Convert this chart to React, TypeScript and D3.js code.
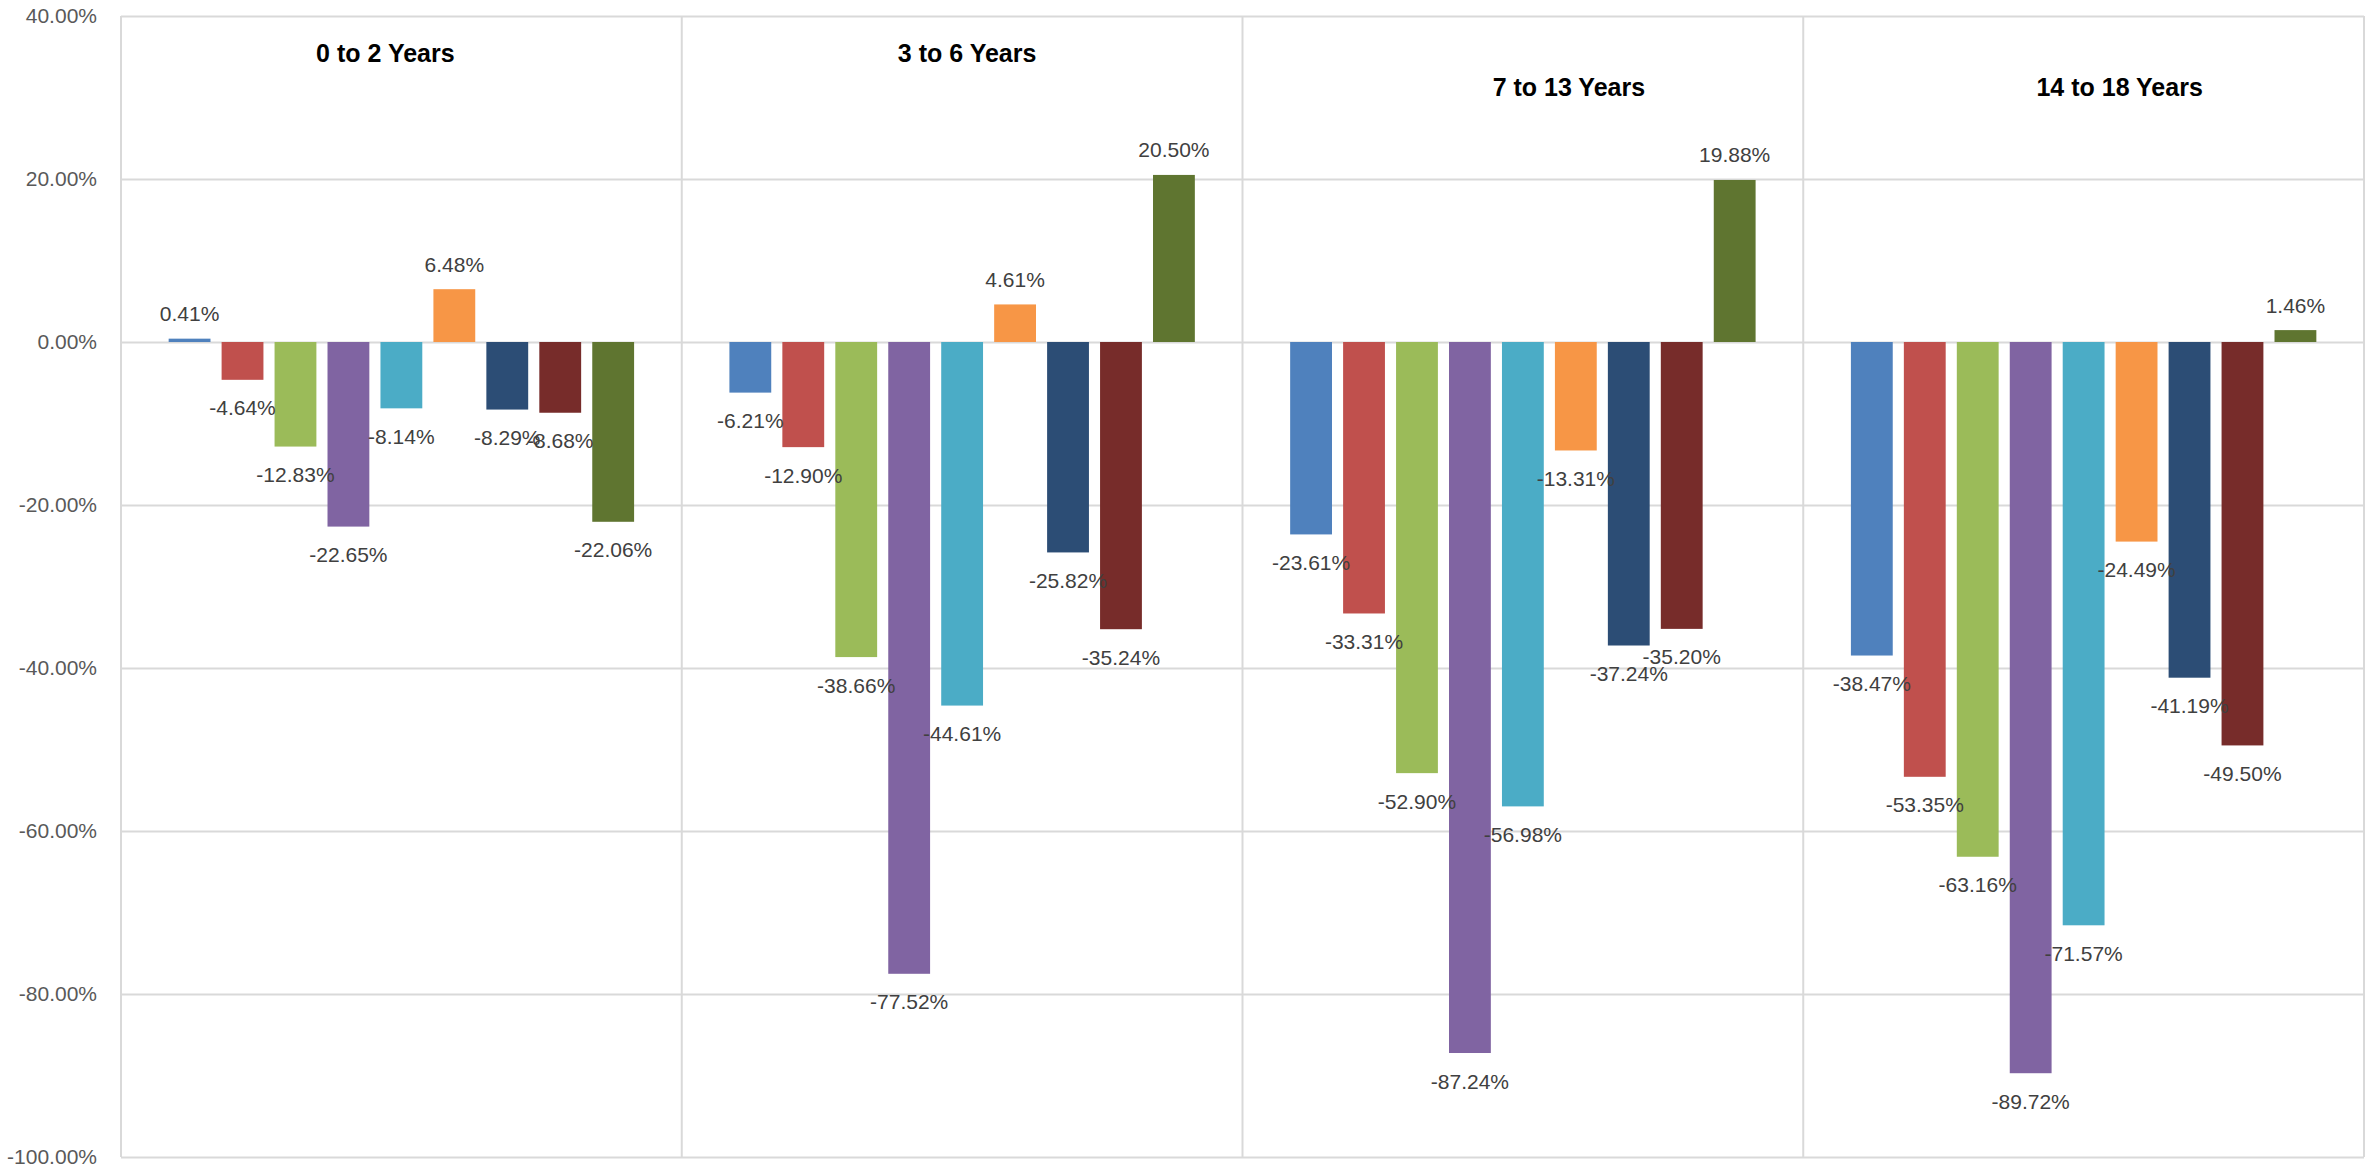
import { useEffect, useRef } from 'react';
import * as d3 from 'd3';

// Age groups (one panel each)
const groups = ['0 to 2 Years', '3 to 6 Years', '7 to 13 Years', '14 to 18 Years'];

// Values per panel, 9 series each (fractions)
const values0to2 = [0.0041, -0.0464, -0.1283, -0.2265, -0.0814, 0.0648, -0.0829, -0.0868, -0.2206];
const values3to6 = [-0.0621, -0.129, -0.3866, -0.7752, -0.4461, 0.0461, -0.2582, -0.3524, 0.205];
const values7to13 = [-0.2361, -0.3331, -0.529, -0.8724, -0.5698, -0.1331, -0.3724, -0.352, 0.1988];
const values14to18 = [-0.3847, -0.5335, -0.6316, -0.8972, -0.7157, -0.2449, -0.4119, -0.495, 0.0146];

const seriesColors = [
  '#4F81BD', '#C0504D', '#9BBB59', '#8064A2', '#4BACC6',
  '#F79646', '#2C4D75', '#772C2A', '#5F7530'
];

const yTicks = [0.4, 0.2, 0, -0.2, -0.4, -0.6, -0.8, -1];

// hand placed panel titles (offset from panel centre, baseline)
const titleLayout = [
  { dx: -16, y: 62 },
  { dx: 5, y: 62 },
  { dx: 46, y: 96 },
  { dx: 36, y: 96 },
];

const W = 2369;
const H = 1166;
const margin = { top: 16, right: 5, bottom: 9, left: 121 };
const FONT = "'Liberation Sans', Arial, sans-serif";

export default function App() {
  const svgRef = useRef<SVGSVGElement>(null);

  useEffect(() => {
    if (!svgRef.current) return;
    const svg = d3.select(svgRef.current);
    svg.selectAll('*').remove();

    const locale = d3.formatLocale({ decimal: '.', thousands: ',', grouping: [3], currency: ['$', ''], minus: '-' });
    const pct = locale.format('.2%');

    const width = W - margin.left - margin.right;
    const height = H - margin.top - margin.bottom;

    const g = svg.append('g').attr('transform', `translate(${margin.left},${margin.top})`);

    const yScale = d3.scaleLinear().domain([-1, 0.4]).range([height, 0]);

    const panelScale = d3.scaleBand<string>()
      .domain(groups)
      .range([0, width])
      .padding(0);

    // gridlines + tick labels
    const yAxis = d3.axisLeft(yScale)
      .tickValues(yTicks)
      .tickSize(-width)
      .tickPadding(24)
      .tickFormat(d => pct(d as number));

    const axisG = g.append('g').call(yAxis);
    axisG.select('.domain').remove();
    axisG.selectAll('.tick line')
      .attr('stroke', '#D9D9D9')
      .attr('stroke-width', 2);
    axisG.selectAll('.tick text')
      .attr('fill', '#595959')
      .style('font-family', FONT)
      .style('font-size', '21px');

    // vertical panel separators
    const edges = [...groups.map(d => panelScale(d) as number), width];
    g.selectAll('.vline')
      .data(edges)
      .join('line')
      .attr('class', 'vline')
      .attr('x1', d => d)
      .attr('x2', d => d)
      .attr('y1', 0)
      .attr('y2', height)
      .attr('stroke', '#D9D9D9')
      .attr('stroke-width', 2);

    const allValues = [values0to2, values3to6, values7to13, values14to18];
    const seriesIdx = d3.range(seriesColors.length).map(String);

    const panels = g.selectAll('.panel')
      .data(groups)
      .join('g')
      .attr('class', 'panel')
      .attr('transform', d => `translate(${panelScale(d)},0)`);

    const xScale = d3.scaleBand<string>()
      .domain(seriesIdx)
      .range([0, panelScale.bandwidth()])
      .paddingInner(0.21)
      .paddingOuter(0.9);

    // bars
    panels.each(function (grp, gi) {
      const pg = d3.select(this);
      const vals = allValues[gi];
      pg.selectAll('rect')
        .data(vals)
        .join('rect')
        .attr('x', (d, i) => xScale(String(i)) as number)
        .attr('width', xScale.bandwidth())
        .attr('y', d => yScale(Math.max(0, d)))
        .attr('height', d => Math.abs(yScale(d) - yScale(0)))
        .attr('fill', (d, i) => seriesColors[i]);
    });

    // labels drawn on top of all bars
    panels.each(function (grp, gi) {
      const pg = d3.select(this);
      const vals = allValues[gi];
      pg.selectAll('text.val')
        .data(vals)
        .join('text')
        .attr('class', 'val')
        .attr('x', (d, i) => (xScale(String(i)) as number) + xScale.bandwidth() / 2)
        .attr('y', d => (d >= 0 ? yScale(d) - 25 : yScale(d) + 28))
        .attr('dominant-baseline', 'central')
        .attr('text-anchor', 'middle')
        .attr('fill', '#404040')
        .style('font-family', FONT)
        .style('font-size', '21px')
        .text(d => pct(d));

      pg.append('text')
        .attr('x', panelScale.bandwidth() / 2 + titleLayout[gi].dx)
        .attr('y', titleLayout[gi].y - margin.top)
        .attr('text-anchor', 'middle')
        .attr('fill', '#000')
        .style('font-family', FONT)
        .style('font-weight', 'bold')
        .style('font-size', '25px')
        .text(grp);
    });
  }, []);

  return (
    <svg
      ref={svgRef}
      width={W}
      height={H}
      style={{ position: 'absolute', left: 0, top: 0, background: '#fff' }}
    />
  );
}
